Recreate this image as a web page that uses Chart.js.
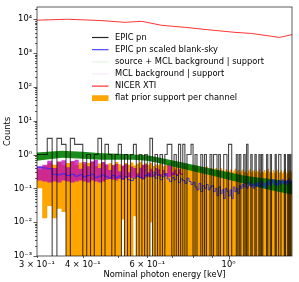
<!DOCTYPE html>
<html>
<head>
<meta charset="utf-8">
<script src="https://cdn.jsdelivr.net/npm/chart.js@4.4.0/dist/chart.umd.min.js"></script>
<style>
  html, body { margin: 0; padding: 0; background: #fff; }
</style>
</head>
<body>
<canvas id="chart" width="299" height="282"></canvas>
<script>
// channel edges [keV], 10 eV channels
const channelEdges = [
  0.30, 0.31, 0.32, 0.33, 0.34, 0.35, 0.36, 0.37, 0.38, 0.39,
  0.40, 0.41, 0.42, 0.43, 0.44, 0.45, 0.46, 0.47, 0.48, 0.49,
  0.50, 0.51, 0.52, 0.53, 0.54, 0.55, 0.56, 0.57, 0.58, 0.59,
  0.60, 0.61, 0.62, 0.63, 0.64, 0.65, 0.66, 0.67, 0.68, 0.69,
  0.70, 0.71, 0.72, 0.73, 0.74, 0.75, 0.76, 0.77, 0.78, 0.79,
  0.80, 0.81, 0.82, 0.83, 0.84, 0.85, 0.86, 0.87, 0.88, 0.89,
  0.90, 0.91, 0.92, 0.93, 0.94, 0.95, 0.96, 0.97, 0.98, 0.99,
  1.00, 1.01, 1.02, 1.03, 1.04, 1.05, 1.06, 1.07, 1.08, 1.09,
  1.10, 1.11, 1.12, 1.13, 1.14, 1.15, 1.16, 1.17, 1.18, 1.19,
  1.20, 1.21, 1.22, 1.23, 1.24, 1.25, 1.26, 1.27, 1.28, 1.29,
  1.30, 1.31, 1.32, 1.33, 1.34, 1.35, 1.36, 1.37, 1.38, 1.39,
  1.40, 1.41, 1.42, 1.43, 1.44, 1.45, 1.46, 1.47, 1.48, 1.49,
  1.50
];

// EPIC pn counts per channel
const epicCounts = [
  1, 1, 3, 0, 3, 2, 0, 3, 2, 2,
  0, 1, 0, 1, 3, 0, 2, 1, 0, 1,
  2, 0, 1, 0, 1, 2, 0, 1, 0, 1,
  0, 3, 0, 1, 0, 1, 0, 1, 2, 2,
  0, 1, 0, 2, 0, 2, 0, 1, 1, 2,
  0, 1, 0, 0, 1, 0, 1, 0, 0, 1,
  0, 1, 1, 0, 1, 0, 0, 1, 1, 0,
  2, 2, 0, 0, 0, 1, 0, 1, 0, 0,
  1, 0, 2, 0, 0, 1, 0, 0, 1, 0,
  0, 1, 0, 1, 0, 0, 0, 1, 0, 0,
  1, 0, 0, 0, 1, 0, 0, 1, 1, 0,
  0, 0, 1, 0, 0, 1, 0, 1, 0, 0
];

// EPIC pn scaled blank-sky per channel
const blankSky = [
  0.42, 0.40, 0.38, 0.26, 0.25, 0.27, 0.24, 0.26, 0.23, 0.25,
  0.22, 0.24, 0.26, 0.21, 0.23, 0.25, 0.22, 0.20, 0.24, 0.21,
  0.23, 0.19, 0.22, 0.18, 0.17, 0.20, 0.23, 0.21, 0.19, 0.24,
  0.26, 0.22, 0.30, 0.20, 0.25, 0.18, 0.22, 0.27, 0.19, 0.16,
  0.21, 0.18, 0.24, 0.15, 0.19, 0.17, 0.14, 0.20, 0.16, 0.13,
  0.15, 0.11, 0.09, 0.14, 0.08, 0.12, 0.10, 0.13, 0.09, 0.11,
  0.12, 0.08, 0.10, 0.06, 0.11, 0.07, 0.09, 0.05, 0.10, 0.08,
  0.06, 0.09, 0.05, 0.11, 0.08, 0.10, 0.07, 0.12, 0.10, 0.13,
  0.11, 0.14, 0.10, 0.12, 0.15, 0.11, 0.13, 0.10, 0.14, 0.12,
  0.15, 0.11, 0.13, 0.16, 0.12, 0.14, 0.10, 0.15, 0.13, 0.17,
  0.12, 0.15, 0.18, 0.13, 0.16, 0.12, 0.14, 0.17, 0.13, 0.15,
  0.18, 0.14, 0.16, 0.13, 0.17, 0.15, 0.19, 0.14, 0.16, 0.18
];

// flat prior support per channel: upper and lower bound
const priorHigh = [
  0.36, 0.45, 0.55, 0.50, 0.60, 0.48, 0.56, 0.62, 0.50, 0.58,
  0.52, 0.56, 0.60, 0.46, 0.54, 0.58, 0.48, 0.55, 0.50, 0.60,
  0.52, 0.45, 0.56, 0.50, 0.58, 0.47, 0.53, 0.60, 0.49, 0.55,
  0.50, 0.56, 0.46, 0.52, 0.48, 0.55, 0.45, 0.50, 0.53, 0.44,
  0.48, 0.42, 0.50, 0.45, 0.40, 0.47, 0.43, 0.49, 0.41, 0.45,
  0.42, 0.38, 0.45, 0.40, 0.43, 0.37, 0.41, 0.44, 0.36, 0.40,
  0.38, 0.34, 0.40, 0.36, 0.33, 0.39, 0.35, 0.31, 0.37, 0.34,
  0.32, 0.36, 0.30, 0.34, 0.38, 0.31, 0.35, 0.29, 0.33, 0.36,
  0.30, 0.34, 0.28, 0.33, 0.37, 0.30, 0.32, 0.35, 0.29, 0.33,
  0.31, 0.36, 0.28, 0.32, 0.30, 0.35, 0.29, 0.33, 0.38, 0.30,
  0.32, 0.28, 0.35, 0.30, 0.27, 0.33, 0.36, 0.29, 0.31, 0.34,
  0.28, 0.32, 0.37, 0.30, 0.26, 0.33, 0.29, 0.35, 0.31, 0.30
];
const priorLow = [
  0.10, 0.013, 0.03, 0.013, 0.025, 0.02, 0, 0, 0, 0,
  0, 0, 0, 0, 0, 0, 0, 0, 0, 0,
  0, 0.012, 0, 0, 0, 0.015, 0, 0, 0, 0,
  0, 0.01, 0, 0, 0, 0, 0, 0, 0, 0,
  0, 0, 0, 0, 0, 0, 0, 0, 0, 0,
  0, 0, 0, 0, 0, 0, 0, 0, 0, 0,
  0, 0, 0, 0, 0, 0, 0, 0, 0, 0,
  0, 0, 0, 0, 0, 0, 0, 0, 0, 0,
  0, 0, 0, 0, 0, 0, 0, 0, 0, 0,
  0, 0, 0, 0, 0, 0, 0, 0, 0, 0,
  0, 0, 0, 0, 0, 0, 0, 0, 0, 0,
  0, 0, 0, 0, 0, 0, 0, 0, 0, 0
];

// MCL background | support band (first channels only)
const mclHigh = [
  0.45, 0.50, 0.66, 0.40, 0.62, 0.68, 0.42, 0.64, 0.70, 0.38,
  0.60, 0.45, 0.63, 0.70, 0.40, 0.60, 0.52, 0.35, 0.48, 0.53,
  0.32, 0.47, 0.52, 0.30, 0.44, 0.40, 0.28, 0.41, 0.50, 0.52,
  0.30, 0.38, 0.27, 0.40, 0.37, 0.26, 0.35, 0.28, 0.55, 0.60,
  0.30, 0.36, 0.27, 0.37, 0.28
];
const mclLow = [
  0.17, 0.16, 0.15, 0.16, 0.15, 0.17, 0.16, 0.15, 0.16, 0.17,
  0.16, 0.15, 0.17, 0.16, 0.15, 0.16, 0.18, 0.19, 0.18, 0.17,
  0.19, 0.18, 0.20, 0.21, 0.20, 0.21, 0.22, 0.20, 0.19, 0.21,
  0.22, 0.23, 0.22, 0.24, 0.23, 0.22, 0.24, 0.23, 0.21, 0.22,
  0.24, 0.25, 0.24, 0.26, 0.25
];

// source + MCL background | support band
const srcEnergy = [0.30, 0.35, 0.40, 0.45, 0.50, 0.55, 0.60, 0.65, 0.70, 0.75, 0.80, 0.90, 1.00, 1.10, 1.20, 1.30, 1.40, 1.50];
const srcLow    = [0.65, 0.80, 0.75, 0.70, 0.70, 0.70, 0.65, 0.55, 0.45, 0.38, 0.32, 0.24, 0.18, 0.14, 0.11, 0.09, 0.075, 0.065];
const srcHigh   = [1.15, 1.30, 1.20, 1.10, 1.05, 1.00, 0.95, 0.80, 0.68, 0.58, 0.50, 0.38, 0.30, 0.24, 0.21, 0.19, 0.17, 0.16];

// NICER XTI
const nicerEnergy = [0.30, 0.364, 0.451, 0.522, 0.579, 0.657, 0.757, 0.877, 1.039, 1.155, 1.377, 1.49];
const nicerCounts = [9400, 10000, 9100, 8100, 8700, 6600, 5800, 4900, 4100, 3800, 2900, 3500];

const yTickValues = [1e-3, 1e-2, 1e-1, 1, 10, 100, 1000, 10000];
const yTickLabels = ['10⁻³', '10⁻²', '10⁻¹', '10⁰', '10¹', '10²', '10³', '10⁴'];
const xTickValues = [0.3, 0.4, 0.6, 1.0];
const xTickLabels = ['3 × 10⁻¹', '4 × 10⁻¹', '6 × 10⁻¹', '10⁰'];

const FLOOR = 1e-5;
const FONT = '"DejaVu Sans", sans-serif';

function steps(values) {
  const pts = values.map((v, i) => ({ x: channelEdges[i], y: v > 0 ? v : FLOOR }));
  pts.push({ x: channelEdges[values.length], y: pts[pts.length - 1].y });
  return pts;
}
function pairs(xs, ys) {
  return xs.map((x, i) => ({ x: x, y: ys[i] }));
}

const legendItems = [
  { label: 'EPIC pn', kind: 'line', color: 'rgba(0,0,0,0.85)' },
  { label: 'EPIC pn scaled blank-sky', kind: 'line', color: 'rgba(40,40,255,0.85)' },
  { label: 'source + MCL background | support', kind: 'line', color: 'rgba(0,128,0,0.1)' },
  { label: 'MCL background | support', kind: 'line', color: 'rgba(200,0,200,0.1)' },
  { label: 'NICER XTI', kind: 'line', color: 'rgba(255,0,0,0.8)' },
  { label: 'flat prior support per channel', kind: 'patch', color: 'rgb(255,165,0)' }
];

const frameTicks = {
  id: 'frameTicks',
  afterDraw(chart) {
    const { ctx, chartArea: a } = chart;
    const xs = chart.scales.x, ys = chart.scales.y;
    ctx.save();
    ctx.strokeStyle = 'rgba(0,0,0,0.8)';
    ctx.lineWidth = 0.8;
    ctx.strokeRect(a.left, a.top, a.right - a.left, a.bottom - a.top);
    ctx.beginPath();
    for (let n = -3; n <= 4; n++) {
      for (let k = 1; k <= 9; k++) {
        const v = k * Math.pow(10, n);
        if (v < ys.min * 0.999 || v > ys.max) continue;
        const py = Math.round(ys.getPixelForValue(v)) + 0.5;
        const len = k === 1 ? 3.5 : 2;
        ctx.moveTo(a.left, py); ctx.lineTo(a.left - len, py);
      }
    }
    for (let k = 3; k <= 10; k++) {
      const v = k / 10;
      const px = Math.round(xs.getPixelForValue(v)) + 0.5;
      const len = k === 10 ? 3.5 : 2;
      ctx.moveTo(px, a.bottom); ctx.lineTo(px, a.bottom + len);
    }
    ctx.stroke();

    // legend inside the axes
    ctx.font = '8.3px ' + FONT;
    ctx.textBaseline = 'middle';
    ctx.textAlign = 'left';
    legendItems.forEach((it, i) => {
      const y = 37.5 + i * 12.15;
      if (it.kind === 'line') {
        ctx.strokeStyle = it.color;
        ctx.lineWidth = 1.2;
        ctx.beginPath();
        ctx.moveTo(92, y); ctx.lineTo(108.5, y);
        ctx.stroke();
      } else {
        ctx.fillStyle = it.color;
        ctx.fillRect(92, y - 3, 16.5, 5.8);
      }
      ctx.fillStyle = '#000';
      ctx.fillText(it.label, 115, y);
    });
    ctx.restore();
  }
};

const base = { pointRadius: 0, borderWidth: 0, tension: 0 };

new Chart(document.getElementById('chart'), {
  type: 'line',
  data: {
    datasets: [
      { ...base, label: 'EPIC pn', data: steps(epicCounts), stepped: 'before',
        borderColor: 'rgba(0,0,0,0.72)', borderWidth: 1.1, fill: false },
      { ...base, label: 'EPIC pn scaled blank-sky', data: steps(blankSky), stepped: 'before',
        borderColor: 'rgba(40,40,255,0.85)', borderWidth: 1, fill: false },
      { ...base, label: 'source + MCL background | support', data: pairs(srcEnergy, srcHigh),
        borderColor: 'rgba(0,128,0,0)', backgroundColor: 'rgba(0,128,0,0.9)', fill: '+1' },
      { ...base, label: 'src low', data: pairs(srcEnergy, srcLow), borderColor: 'rgba(0,0,0,0)', fill: false },
      { ...base, label: 'MCL background | support', data: steps(mclHigh), stepped: 'before',
        borderColor: 'rgba(0,0,0,0)', backgroundColor: 'rgba(190,0,190,0.75)', fill: '+1' },
      { ...base, label: 'mcl low', data: steps(mclLow), stepped: 'before', borderColor: 'rgba(0,0,0,0)', fill: false },
      { ...base, label: 'NICER XTI', data: pairs(nicerEnergy, nicerCounts),
        borderColor: 'rgba(255,0,0,0.8)', borderWidth: 1, fill: false },
      { ...base, label: 'flat prior support per channel', data: steps(priorHigh), stepped: 'before',
        borderColor: 'rgba(0,0,0,0)', backgroundColor: 'rgb(255,165,0)', fill: '+1' },
      { ...base, label: 'prior low', data: steps(priorLow), stepped: 'before', borderColor: 'rgba(0,0,0,0)', fill: false }
    ]
  },
  options: {
    responsive: false,
    animation: false,
    events: [],
    layout: { padding: { top: 7, right: 7, left: 0, bottom: 0 } },
    plugins: { legend: { display: false }, tooltip: { enabled: false } },
    scales: {
      x: {
        type: 'logarithmic', min: 0.3, max: 1.49,
        afterFit(s) { s.height = 26; },
        afterBuildTicks(s) { s.ticks = xTickValues.map(v => ({ value: v })); },
        grid: { display: false, drawTicks: true, tickLength: 3.5 },
        border: { display: false },
        ticks: {
          autoSkip: false, maxRotation: 0, padding: 0, color: '#000',
          font: { family: FONT, size: 8.3 },
          callback: (v) => xTickLabels[xTickValues.indexOf(v)]
        },
        title: { display: true, text: 'Nominal photon energy [keV]', color: '#000',
          font: { family: FONT, size: 8.3 }, padding: { top: 0, bottom: 2 } }
      },
      y: {
        type: 'logarithmic', min: 1e-3, max: 2.3e4,
        afterFit(s) { s.width = 37; },
        afterBuildTicks(s) { s.ticks = yTickValues.map(v => ({ value: v })); },
        grid: { display: false, drawTicks: true, tickLength: 3.5 },
        border: { display: false },
        ticks: {
          autoSkip: false, padding: 1.5, color: '#000',
          font: { family: FONT, size: 8.3 },
          callback: (v) => yTickLabels[yTickValues.indexOf(v)]
        },
        title: { display: true, text: 'Counts', color: '#000',
          font: { family: FONT, size: 8.3 }, padding: { top: 3, bottom: 0 } }
      }
    }
  },
  plugins: [frameTicks]
});
</script>
</body>
</html>
